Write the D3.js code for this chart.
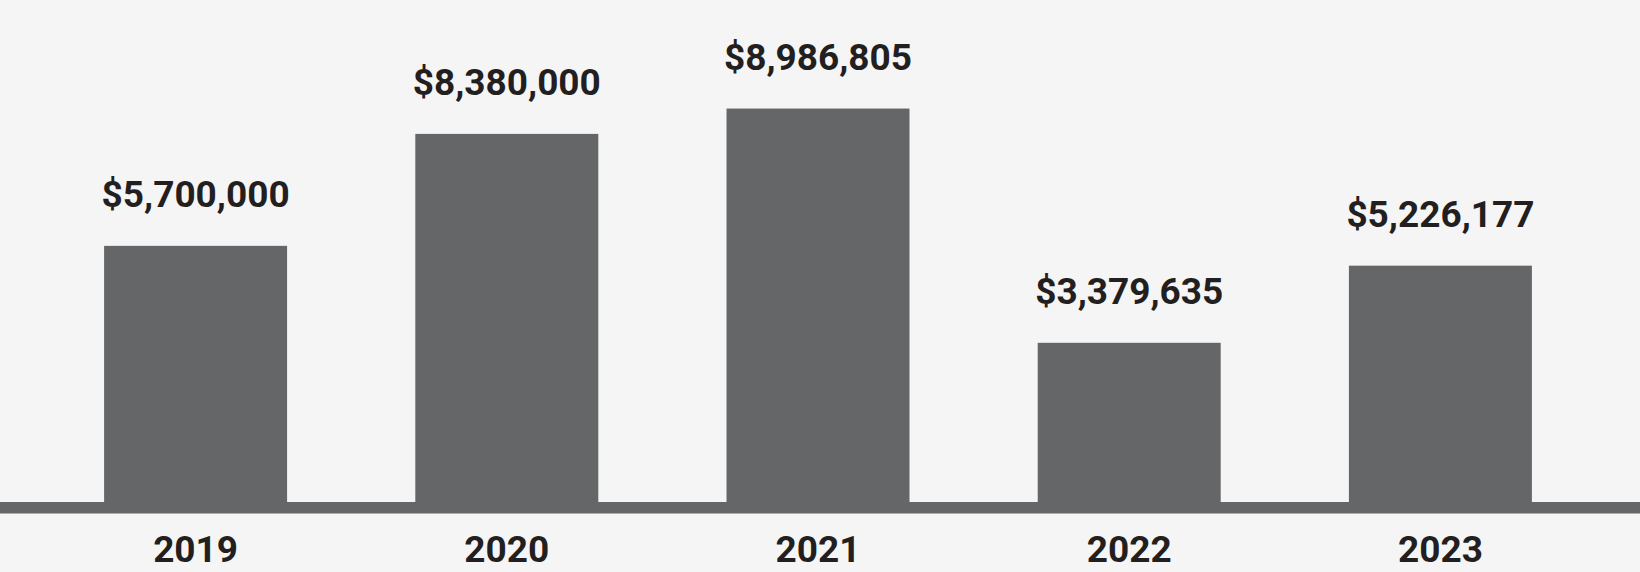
<!DOCTYPE html>
<html>
<head>
<meta charset="utf-8">
<script src="https://cdn.jsdelivr.net/npm/d3@7"></script>
<style>
	html, body { margin: 0; padding: 0; background: #f5f5f5; }
	svg { display: block; }
</style>
</head>
<body>
<div id="chart"></div>
<script>
// data
var years = ["2019", "2020", "2021", "2022", "2023"];
var amounts = [5700000, 8380000, 8986805, 3379635, 5226177];

var width = 1640;
var height = 572;
var base_y = 502; // top of the grey floor band
var bar_color = "#656667";
var text_color = "#231f20";

var svg = d3.select("#chart")
	.append("svg")
	.attr("width", width)
	.attr("height", height)
	.style("background", "#f5f5f5");

var x = d3.scaleBand()
	.domain(years)
	.range([40, 1596])
	.paddingInner(0.412)
	.paddingOuter(0.206);

// fitted so the bar tops sit roughly where the original put them
var y = d3.scaleLinear()
	.domain([0, 9000000])
	.range([484, 108]);

var data = years.map((d, i) => ({year: d, value: amounts[i]}));

var bar = svg.selectAll('g.bar')
	.data(data)
	.enter()
	.append('g')
	.attr('class', 'bar')
	.attr('transform', d => 'translate(' + x(d.year) + ',0)');

bar.append('rect')
	.attr('x', 0)
	.attr('y', d => y(d.value))
	.attr('width', x.bandwidth())
	.attr('height', d => base_y - y(d.value) + 2)
	.style('fill', bar_color);

bar.append('text')
	.attr('x', x.bandwidth() / 2)
	.attr('y', d => y(d.value) - 39)
	.attr('text-anchor', 'middle')
	.attr('font-family', 'Roboto, sans-serif')
	.attr('font-weight', 700)
	.attr('font-size', '37px')
	.style('fill', text_color)
	.text(d => '$' + d3.format(',')(d.value));

// floor band
svg.append('rect')
	.attr('x', 0)
	.attr('y', base_y)
	.attr('width', width)
	.attr('height', 11.5)
	.style('fill', bar_color);

// year labels
var xAxis = svg.append('g')
	.attr('transform', 'translate(0,' + (base_y + 11.5) + ')')
	.call(d3.axisBottom(x).tickSize(0).tickPadding(0));
xAxis.select('.domain').remove();
xAxis.selectAll('text')
	.attr('dy', null)
	.attr('y', 48)
	.attr('font-family', 'Roboto, sans-serif')
	.attr('font-weight', 700)
	.attr('font-size', '37px')
	.style('fill', text_color);
</script>
</body>
</html>
